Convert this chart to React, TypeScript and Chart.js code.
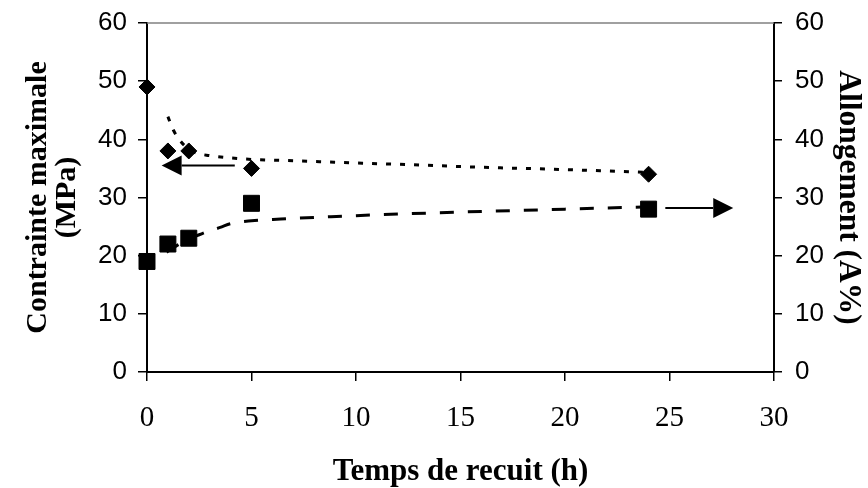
import React, { useEffect, useRef } from "react";
import { Chart, registerables } from "chart.js";

Chart.register(...registerables);

// Measured data (Temps de recuit in h)
const timeH = [0, 1, 2, 5, 24];
const contrainteMPa = [49, 38, 38, 35, 34];
const allongementPct = [19, 22, 23, 29, 28];

// Trend curves
const trendContrainteX = [1, 1.26, 1.58, 2, 2.3, 3, 4, 5, 7.2, 10.3, 12.1, 16, 20, 24];
const trendContrainteY = [43.9, 41.6, 39.8, 38.3, 37.7, 37.2, 36.8, 36.55, 36.3, 35.9, 35.7, 35.2, 34.8, 34.3];
const trendAllongementX = [0.94, 1.5, 2, 2.5, 2.86, 3.5, 4, 5, 6.4, 8.8, 12.4, 16, 20, 24];
const trendAllongementY = [20.6, 21.9, 22.9, 23.6, 24.1, 24.85, 25.5, 26.0, 26.3, 26.7, 27.2, 27.6, 28.0, 28.4];

// Arrows: [fromX, fromY, toX, toY]
const arrowLeft = [4.2, 35.5, 0.7, 35.5];
const arrowRight = [24.8, 28.2, 28.05, 28.2];

const xTitle = "Temps de recuit (h)";
const yLeftTitle = ["Contrainte maximale", "(MPa)"];
const yRightTitle = "Allongement (A%)";

const toPts = (xs: number[], ys: number[]) => xs.map((x, i) => ({ x, y: ys[i] }));

const decoPlugin = {
  id: "deco",
  beforeDatasetsDraw(chart: any) {
    const { ctx, chartArea } = chart;
    ctx.save();
    ctx.strokeStyle = "#808080";
    ctx.lineWidth = 1.5;
    ctx.beginPath();
    ctx.moveTo(chartArea.left, chartArea.top);
    ctx.lineTo(chartArea.right, chartArea.top);
    ctx.stroke();
    ctx.restore();
  },
  afterDatasetsDraw(chart: any) {
    const { ctx } = chart;
    const xs = chart.scales.x;
    const drawArrow = (a: number[], yScale: any) => {
      const x1 = xs.getPixelForValue(a[0]);
      const y1 = yScale.getPixelForValue(a[1]);
      const x2 = xs.getPixelForValue(a[2]);
      const y2 = yScale.getPixelForValue(a[3]);
      const ang = Math.atan2(y2 - y1, x2 - x1);
      const hl = 20;
      const hw = 10;
      ctx.save();
      ctx.strokeStyle = "#000";
      ctx.fillStyle = "#000";
      ctx.lineWidth = 2;
      ctx.beginPath();
      ctx.moveTo(x1, y1);
      ctx.lineTo(x2 - hl * Math.cos(ang), y2 - hl * Math.sin(ang));
      ctx.stroke();
      ctx.beginPath();
      ctx.moveTo(x2, y2);
      ctx.lineTo(x2 - hl * Math.cos(ang) - hw * Math.sin(ang), y2 - hl * Math.sin(ang) + hw * Math.cos(ang));
      ctx.lineTo(x2 - hl * Math.cos(ang) + hw * Math.sin(ang), y2 - hl * Math.sin(ang) - hw * Math.cos(ang));
      ctx.closePath();
      ctx.fill();
      ctx.restore();
    };
    drawArrow(arrowLeft, chart.scales.y);
    drawArrow(arrowRight, chart.scales.y1);
  },
};

export default function App() {
  const ref = useRef<HTMLCanvasElement | null>(null);
  useEffect(() => {
    if (!ref.current) return;
    const tickFontSans = { family: "'Liberation Sans', Arial, sans-serif", size: 26 };
    const serif = "'Liberation Serif', 'Times New Roman', serif";
    const fitY = (w: number) => (s: any) => {
      s.width = w;
      s.paddingTop = 0;
      s.paddingBottom = 0;
    };
    const chart = new Chart(ref.current, {
      type: "scatter",
      data: {
        datasets: [
          {
            label: "Contrainte",
            data: toPts(timeH, contrainteMPa),
            yAxisID: "y",
            pointStyle: "rectRot",
            pointRadius: 8,
            pointBackgroundColor: "#000",
            pointBorderColor: "#000",
            showLine: false,
            clip: false as any,
            order: 0,
          },
          {
            label: "Allongement",
            data: toPts(timeH, allongementPct),
            yAxisID: "y1",
            pointStyle: "rect",
            pointRadius: 11.3,
            pointBackgroundColor: "#000",
            pointBorderColor: "#000",
            showLine: false,
            clip: false as any,
            order: 0,
          },
          {
            label: "Tendance contrainte",
            data: toPts(trendContrainteX, trendContrainteY),
            yAxisID: "y",
            showLine: true,
            pointRadius: 0,
            borderColor: "#000",
            borderWidth: 3,
            borderDash: [5, 9],
            cubicInterpolationMode: "monotone",
            order: 1,
          },
          {
            label: "Tendance allongement",
            data: toPts(trendAllongementX, trendAllongementY),
            yAxisID: "y1",
            showLine: true,
            pointRadius: 0,
            borderColor: "#000",
            borderWidth: 3,
            borderDash: [14, 14],
            cubicInterpolationMode: "monotone",
            order: 1,
          },
        ],
      },
      options: {
        animation: false,
        responsive: true,
        maintainAspectRatio: false,
        layout: { padding: { top: 23, left: 0, right: 0, bottom: 0 } },
        plugins: { legend: { display: false }, tooltip: { enabled: false } },
        scales: {
          x: {
            type: "linear",
            min: 0,
            max: 30,
            afterFit: (s: any) => {
              s.height = 116;
              s.paddingLeft = 0;
              s.paddingRight = 0;
            },
            ticks: {
              stepSize: 5,
              color: "#000",
              padding: 20,
              font: { family: serif, size: 29 },
            },
            grid: { drawOnChartArea: false, drawTicks: true, tickLength: 9, color: "#000", lineWidth: 1.5 },
            border: { display: true, color: "#000", width: 2 },
            title: { display: true, text: xTitle, color: "#000", font: { family: serif, size: 31, weight: "bold", lineHeight: 1.0 }, padding: { top: 0, bottom: 1 } },
          },
          y: {
            type: "linear",
            position: "left",
            min: 0,
            max: 60,
            afterFit: fitY(147),
            ticks: { stepSize: 10, color: "#000", padding: 11, font: tickFontSans },
            grid: { drawOnChartArea: false, drawTicks: true, tickLength: 9, color: "#000", lineWidth: 1.5 },
            border: { display: true, color: "#000", width: 2 },
            title: { display: true, text: yLeftTitle, color: "#000", font: { family: serif, size: 30, weight: "bold", lineHeight: 0.95 }, padding: { top: 24, bottom: 0 } },
          },
          y1: {
            type: "linear",
            position: "right",
            min: 0,
            max: 60,
            afterFit: fitY(94),
            ticks: { stepSize: 10, color: "#000", padding: 13, font: tickFontSans },
            grid: { drawOnChartArea: false, drawTicks: true, tickLength: 8, color: "#000", lineWidth: 1.5 },
            border: { display: true, color: "#000", width: 2 },
            title: { display: true, text: yRightTitle, color: "#000", font: { family: serif, size: 31.5, weight: "bold", lineHeight: 1.0 }, padding: { top: 4, bottom: 0 } },
          },
        },
      },
      plugins: [decoPlugin],
    });
    return () => chart.destroy();
  }, []);
  return (
    <div style={{ position: "absolute", left: 0, top: 0, width: 868, height: 488, background: "#fff" }}>
      <canvas ref={ref} />
    </div>
  );
}
